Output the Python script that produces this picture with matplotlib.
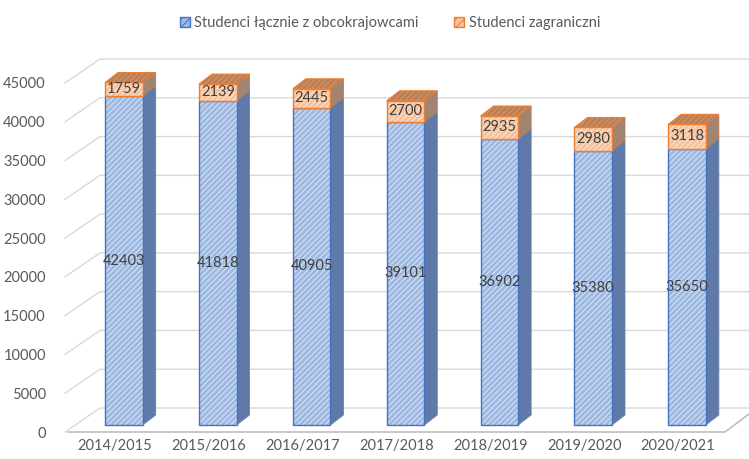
import matplotlib
matplotlib.use('Agg')
import matplotlib.pyplot as plt
from matplotlib.patches import Polygon, Patch
from matplotlib.lines import Line2D
from matplotlib.transforms import ScaledTranslation, IdentityTransform
import numpy as np

# Data
years = ['2014/2015', '2015/2016', '2016/2017', '2017/2018', '2018/2019', '2019/2020', '2020/2021']
students_total = [42403, 41818, 40905, 39101, 36902, 35380, 35650]
students_foreign = [1759, 2139, 2445, 2700, 2935, 2980, 3118]
y_ticks = list(range(0, 45001, 5000))

plt.rcParams['font.family'] = ['Lato', 'DejaVu Sans']
plt.rcParams['hatch.linewidth'] = 0.7

W, H = 749, 459
fig = plt.figure(figsize=(W / 100, H / 100), dpi=100)
ax = fig.add_axes([68 / W, 27 / H, 657 / W, 349 / H])
ax.set_facecolor('none')
for s in ax.spines.values():
    s.set_visible(False)
ax.set_xlim(-0.5, 6.5)
ax.set_ylim(0, 45000)
ax.set_autoscale_on(False)

# pseudo-3d offsets in pixels
FRONT = np.array([9, 7])      # bar front face sits a bit behind the floor edge
DEPTH = np.array([13, 10])    # bar depth
WALL = np.array([32, 24])     # back wall depth

ident = IdentityTransform()
front_tr = ax.transData + ScaledTranslation(FRONT[0] / 100, FRONT[1] / 100, fig.dpi_scale_trans)

def disp(x, y):
    return ax.transData.transform((x, y))

# gridlines: left wall diagonal + back wall horizontal
for v in y_ticks:
    p = disp(-0.5, v)
    q = p + WALL
    ax.add_line(Line2D([p[0] - 3, q[0], W + 5], [p[1], q[1], q[1]], transform=ident,
                       color='#D9D9D9', lw=1, clip_on=False, zorder=0))
# floor front edge
p0 = disp(-0.5, 0)
p1 = disp(6.5, 0)
ax.add_line(Line2D([p0[0], p1[0], p1[0] + WALL[0]], [p0[1], p1[1], p1[1] + WALL[1]],
                   transform=ident, color='#BFBFBF', lw=1.2, clip_on=False, zorder=1))

x = np.arange(len(years))
w = 0.4
tops = np.array(students_total) + np.array(students_foreign)

# side and top faces
for i in range(len(years)):
    segs = [(0, students_total[i], '#5F7AA8'), (students_total[i], tops[i], '#A08572')]
    for y0, y1, col in segs:
        a = disp(x[i] + w / 2, y0) + FRONT
        b = disp(x[i] + w / 2, y1) + FRONT
        ax.add_patch(Polygon([a, b, b + DEPTH, a + DEPTH], closed=True, transform=ident,
                             facecolor=col, edgecolor='#6E7F99' if y0 == 0 else '#C07A4E',
                             lw=0.6, clip_on=False, zorder=2))
    l = disp(x[i] - w / 2, tops[i]) + FRONT
    r = disp(x[i] + w / 2, tops[i]) + FRONT
    ax.add_patch(Polygon([l, r, r + DEPTH, l + DEPTH], closed=True, transform=ident,
                         facecolor='#B98058', edgecolor='#E09060', hatch='//////',
                         lw=0, clip_on=False, zorder=2))
    ax.add_patch(Polygon([l, r, r + DEPTH, l + DEPTH], closed=True, transform=ident,
                         fill=False, edgecolor='#ED7D31', lw=0.8, clip_on=False, zorder=2))

# front faces
ax.bar(x, students_total, width=w, color='#9DB8E2', edgecolor='#DDE7F5', hatch='//////',
       linewidth=0, transform=front_tr, zorder=3, clip_on=False)
ax.bar(x, students_total, width=w, fill=False, edgecolor='#4472C4', linewidth=1,
       transform=front_tr, zorder=3, clip_on=False)
ax.bar(x, students_foreign, bottom=students_total, width=w, color='#F6C19B', edgecolor='#FCE6D5',
       hatch='//////', linewidth=0, transform=front_tr, zorder=3, clip_on=False)
ax.bar(x, students_foreign, bottom=students_total, width=w, fill=False, edgecolor='#ED7D31',
       linewidth=1, transform=front_tr, zorder=3, clip_on=False)

# value labels
for i in range(len(years)):
    ax.text(x[i], students_total[i] / 2, str(students_total[i]), transform=front_tr,
            ha='center', va='center', fontsize=10.5, color='#404040', zorder=4)
    ax.text(x[i], students_total[i] + students_foreign[i] / 2, str(students_foreign[i]),
            transform=front_tr, ha='center', va='center', fontsize=10.5, color='#404040', zorder=4)

ax.set_yticks(y_ticks)
ax.set_yticklabels([str(v) for v in y_ticks])
ax.set_xticks(x)
ax.set_xticklabels(years)
ax.tick_params(axis='y', length=0, pad=16, labelsize=10.5, labelcolor='#595959')
ax.tick_params(axis='x', length=0, pad=5, labelsize=10.5, labelcolor='#595959')

handles = [Patch(facecolor='#9DB8E2', edgecolor='#4472C4', hatch='////', label='Studenci łącznie z obcokrajowcami'),
           Patch(facecolor='#F6C19B', edgecolor='#ED7D31', hatch='////', label='Studenci zagraniczni')]
leg = fig.legend(handles=handles, loc='upper center', bbox_to_anchor=(390 / W, 1 - 3 / H), ncol=2,
                 frameon=False, fontsize=10.5, handlelength=0.7, handleheight=0.7,
                 handletextpad=0.3, columnspacing=2.4)
for t in leg.get_texts():
    t.set_color('#595959')

fig.savefig('out.png', dpi=100)
